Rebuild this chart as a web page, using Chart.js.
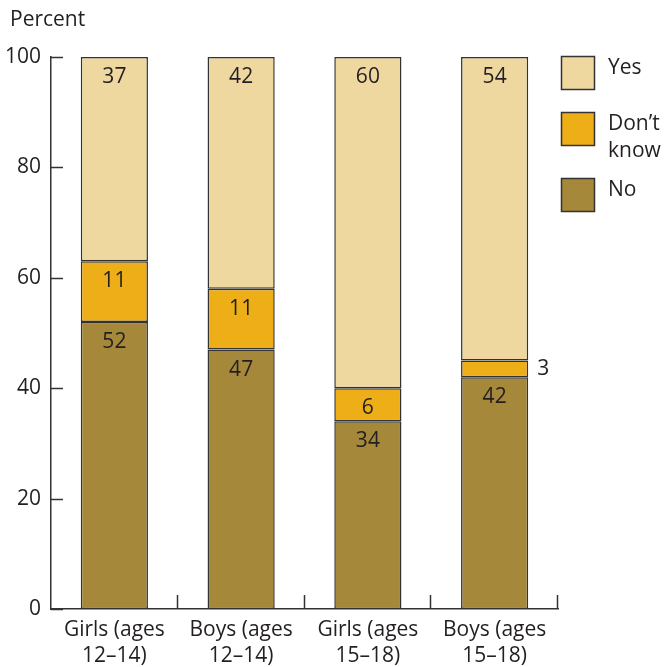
<!DOCTYPE html>
<html>
<head>
<meta charset="utf-8">
<script src="https://cdn.jsdelivr.net/npm/chart.js@4.4.1/dist/chart.umd.min.js"></script>
<style>
  html, body { margin: 0; padding: 0; background: #fff; }
  #wrap { width: 664px; height: 667px; }
</style>
</head>
<body>
<div id="wrap"><canvas id="chart" width="664" height="667"></canvas></div>
<script>
/* ── DATA ─────────────────────────────────────────────── */
const categories  = [['Girls (ages', '12–14)'], ['Boys (ages', '12–14)'], ['Girls (ages', '15–18)'], ['Boys (ages', '15–18)']];
const noValues    = [52, 47, 34, 42];
const dkValues    = [11, 11, 6, 3];
const yesValues   = [37, 42, 60, 55];   // bar heights as drawn
const yesPrinted  = [37, 42, 60, 54];   // numbers printed on the bars
const yTicks      = [0, 20, 40, 60, 80, 100];

const FONT = '"Open Sans", "DejaVu Sans", sans-serif';
const FS   = 21;
const INK  = '#231f20';
const AXIS = '#333333';
const COL  = { yes: '#efd8a0', dk: '#eeae17', no: '#a6883a' };

/* ── PLUGIN: inward ticks, labels, legend, title ──────── */
const decor = {
  id: 'decor',
  afterDatasetsDraw(chart) {
    const { ctx, chartArea: a, scales: { x, y } } = chart;
    ctx.save();

    // inward y ticks
    ctx.strokeStyle = AXIS;
    ctx.lineWidth = 1.5;
    yTicks.forEach(v => {
      const py = Math.round(y.getPixelForValue(v)) + 0.5;
      ctx.beginPath();
      ctx.moveTo(a.left, py);
      ctx.lineTo(a.left + 12, py);
      ctx.stroke();
    });
    // category separators
    const step = (a.right - a.left) / categories.length;
    for (let i = 1; i <= categories.length; i++) {
      const px = Math.round(a.left + step * i) - 0.5;
      ctx.beginPath();
      ctx.moveTo(px, a.bottom);
      ctx.lineTo(px, a.bottom - 14);
      ctx.stroke();
    }

    // segment value labels
    ctx.fillStyle = INK;
    ctx.font = FS + 'px ' + FONT;
    ctx.textBaseline = 'middle';
    const printed = [noValues, dkValues, yesPrinted];
    chart.data.datasets.forEach((ds, di) => {
      const meta = chart.getDatasetMeta(di);
      meta.data.forEach((bar, i) => {
        const txt = String(printed[di][i]);
        const h = bar.base - bar.y;
        if (h < 25) {
          ctx.textAlign = 'left';
          ctx.fillText(txt, bar.x + bar.width / 2 + 9, (bar.y + bar.base) / 2);
        } else {
          ctx.textAlign = 'center';
          ctx.fillText(txt, bar.x, bar.y + 20);
        }
      });
    });

    // legend
    const items = [
      { c: COL.yes, t: ['Yes'], top: 56 },
      { c: COL.dk,  t: ['Don’t', 'know'], top: 112 },
      { c: COL.no,  t: ['No'], top: 178 }
    ];
    const bx = a.right + 3;
    items.forEach(it => {
      ctx.fillStyle = it.c;
      ctx.fillRect(bx, it.top, 34, 34);
      ctx.strokeStyle = AXIS;
      ctx.lineWidth = 1.5;
      ctx.strokeRect(bx + 0.5, it.top + 0.5, 33, 33);
      ctx.fillStyle = INK;
      ctx.textAlign = 'left';
      it.t.forEach((line, k) => ctx.fillText(line, bx + 47, it.top + 12 + k * 27));
    });

    // axis title
    ctx.textAlign = 'left';
    ctx.fillText('Percent', 10, 20);
    ctx.restore();
  }
};

/* ── CHART ─────────────────────────────────────────────── */
const mk = (label, data, color) => ({
  label, data,
  backgroundColor: color,
  borderColor    : AXIS,
  borderWidth    : 1.5,
  borderSkipped  : false,
  categoryPercentage: 1,
  barPercentage  : 0.53
});

new Chart(document.getElementById('chart'), {
  type: 'bar',
  data: {
    labels  : categories,
    datasets: [
      mk('No', noValues, COL.no),
      mk('Don’t know', dkValues, COL.dk),
      mk('Yes', yesValues, COL.yes)
    ]
  },
  options: {
    responsive: false,
    animation : false,
    layout    : { padding: { top: 57, right: 106, left: 0, bottom: 0 } },
    scales: {
      x: {
        stacked: true,
        grid   : { display: false },
        border : { display: true, color: AXIS, width: 1.5 },
        ticks  : { color: INK, font: { family: FONT, size: FS, lineHeight: 1.24 }, padding: 0, maxRotation: 0, autoSkip: false },
        afterFit: s => { s.height = 58; }
      },
      y: {
        stacked: true,
        min: 0, max: 100,
        afterBuildTicks: s => { s.ticks = yTicks.map(v => ({ value: v })); },
        grid   : { display: false },
        border : { display: true, color: AXIS, width: 1.5 },
        ticks  : { color: INK, font: { family: FONT, size: FS }, padding: 2 },
        afterFit: s => { s.width = 51; }
      }
    },
    plugins: {
      legend : { display: false },
      tooltip: { enabled: false }
    }
  },
  plugins: [decor]
});
</script>
</body>
</html>
